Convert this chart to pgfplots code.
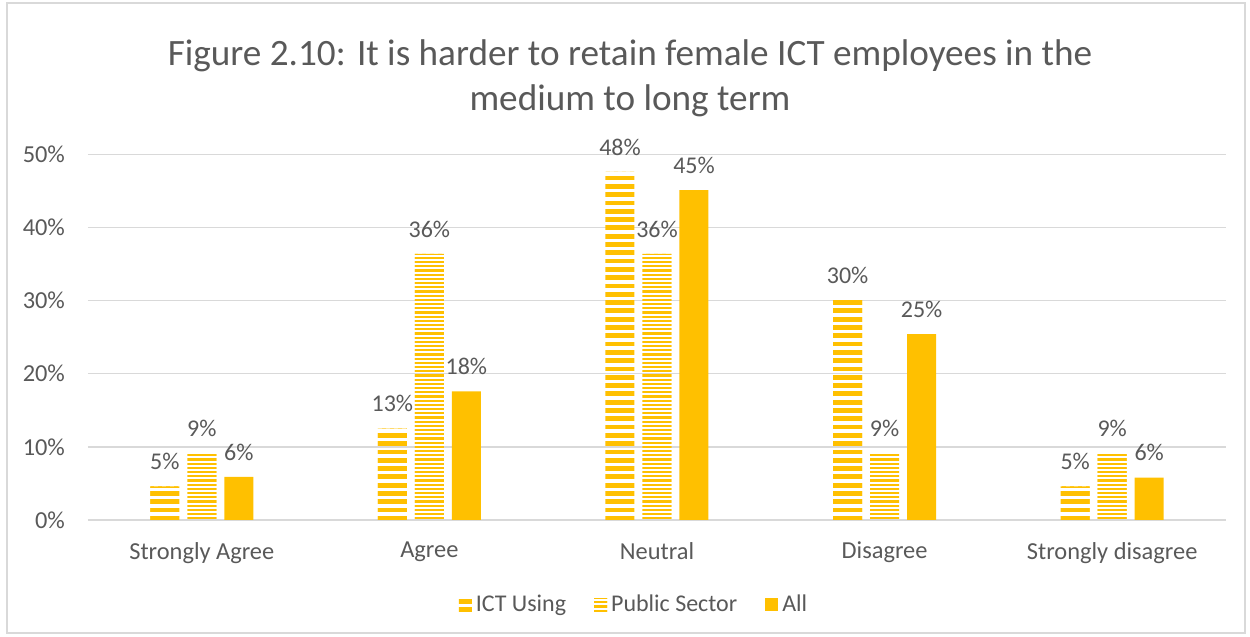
\documentclass[border=0pt]{standalone}
\usepackage{fontspec}
\setmainfont{Carlito}
\usepackage{pgfplots}
\pgfplotsset{compat=1.18}
\usetikzlibrary{patterns, calc}
\definecolor{gold}{HTML}{FFC000}
\definecolor{txt}{HTML}{595959}
\definecolor{gridc}{HTML}{D9D9D9}

% wide stripes (ICT Using) and fine stripes (Public Sector); tiles overlap sideways to avoid seams
\pgfdeclarepatternformonly{widestripes}{\pgfpoint{-1pt}{0pt}}{\pgfpoint{5pt}{4.15pt}}{\pgfpoint{4pt}{4.15pt}}{%
  \pgfpathrectangle{\pgfpoint{-1pt}{0pt}}{\pgfpoint{6pt}{2.4pt}}\pgfusepath{fill}}
\pgfdeclarepatternformonly{finestripes}{\pgfpoint{-1pt}{0pt}}{\pgfpoint{5pt}{2.1pt}}{\pgfpoint{4pt}{2.1pt}}{%
  \pgfpathrectangle{\pgfpoint{-1pt}{0pt}}{\pgfpoint{6pt}{1.1pt}}\pgfusepath{fill}}

\pgfplotstableread{
x ict pub all
0 4.6 9.1 5.9
1 12.5 36.4 17.6
2 47.6 36.4 45.1
3 30.1 9.1 25.4
4 4.6 9.1 5.8
}\datatbl

\begin{document}
\begin{tikzpicture}
\begin{axis}[
  name=ax,
  scale only axis, width=569pt, height=182.85pt,
  ybar=4pt, bar width=14.5pt,
  xmin=-0.5, xmax=4.5, ymin=0, ymax=50,
  xtick=data,
  xticklabels={Strongly Agree, Agree, Neutral, Disagree, Strongly disagree},
  ytick={0,10,...,50},
  yticklabel={\pgfmathprintnumber{\tick}\%},
  /pgf/number format/assume math mode=true,
  major tick length=0pt,
  axis line style={draw=none},
  xmajorgrids=false, ymajorgrids=true,
  grid style={draw=gridc, line width=0.75pt},
  tick label style={font=\fontsize{12.2}{14}\selectfont, text=txt},
  xticklabel style={yshift=-7.5pt},
  yticklabel style={xshift=-8pt},
  nodes near coords={\pgfmathprintnumber[fixed,precision=0]{\pgfplotspointmeta}\%},
  nodes near coords style={font=\fontsize{12}{14}\selectfont, text=txt, inner sep=0pt, yshift=8pt},
  legend columns=3,
  legend style={at={(0.5,0)}, anchor=center, xshift=-11pt, yshift=-42.5pt, draw=none,
    font=\fontsize{12}{14}\selectfont, text=txt,
    /tikz/every even column/.append style={column sep=12pt}},
  legend image code/.code={\path[#1, draw=none] (0pt,-3.25pt) rectangle (6.5pt,3.25pt);},
]
\addplot[draw=none, pattern=widestripes, pattern color=gold] table[x=x, y=ict] {\datatbl};
\addplot[draw=none, pattern=finestripes, pattern color=gold] table[x=x, y=pub] {\datatbl};
\addplot[draw=none, fill=gold] table[x=x, y=all] {\datatbl};
\legend{ICT Using, Public Sector, All}
\end{axis}
\node[align=center, text=txt, font=\fontsize{18.6}{22.5}\selectfont] at ($(ax.north)+(-13.5pt,38pt)$)
  {Figure 2.10: It is harder to retain female ICT employees in the\\medium to long term};
\pgfresetboundingbox
\draw[draw=gridc, line width=0.75pt] ($(ax.south west)+(-40.5pt,-56.5pt)$) rectangle ++(619pt,315pt);
\path[use as bounding box] ($(ax.south west)+(-44pt,-58.5pt)$) rectangle ++(625pt,318.5pt);
\end{tikzpicture}
\end{document}
